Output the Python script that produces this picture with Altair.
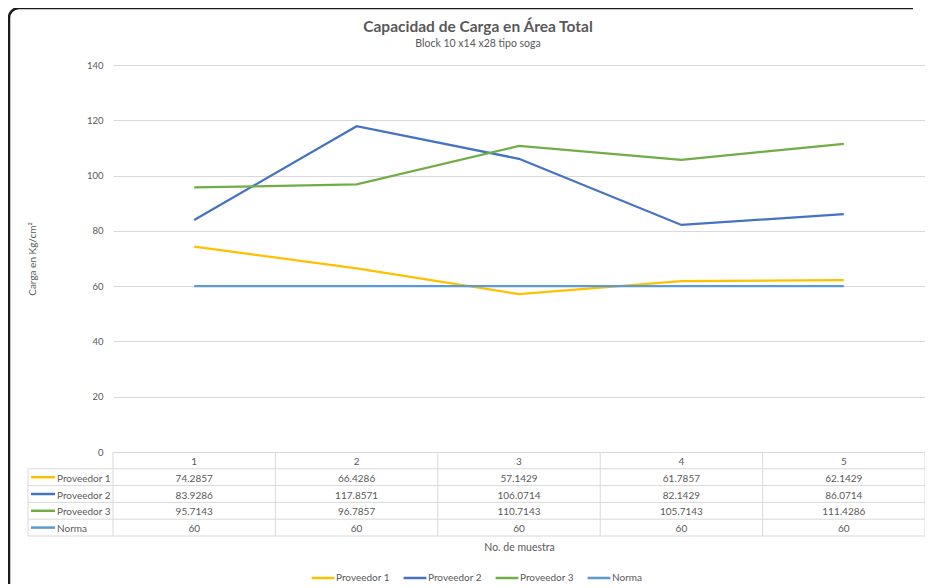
import math
import altair as alt
import pandas as pd

# ---------------- data ----------------
muestras = [1, 2, 3, 4, 5]
series = ["Proveedor 1", "Proveedor 2", "Proveedor 3", "Norma"]
proveedor1 = [74.2857, 66.4286, 57.1429, 61.7857, 62.1429]
proveedor2 = [83.9286, 117.8571, 106.0714, 82.1429, 86.0714]
proveedor3 = [95.7143, 96.7857, 110.7143, 105.7143, 111.4286]
norma = [60, 60, 60, 60, 60]
colors = ["#FFC000", "#4472C4", "#70AD47", "#5B9BD5"]
y_ticks = [0, 20, 40, 60, 80, 100, 120, 140]
title_text = "Capacidad de Carga en Área Total"
subtitle_text = "Block 10 x14 x28 tipo soga"
x_title = "No. de muestra"
y_title = "Carga en Kg/cm²"

# ---------------- style ----------------
W, H = 812, 387
TABLE_H = 84
PAD_BOTTOM = 580 - 57 - H
FONT = "Lato"
GRAY = "#595959"
GRID = "#d9d9d9"
FRAME = "#1a1a1a"

values = [proveedor1, proveedor2, proveedor3, norma]
long = pd.DataFrame(
    [
        {"serie": s, "muestra": m, "valor": v, "fila": i + 1.5}
        for i, (s, vals) in enumerate(zip(series, values))
        for m, v in zip(muestras, vals)
    ]
)
rows_df = pd.DataFrame({"serie": series, "fila": [i + 1.5 for i in range(len(series))]})
header_df = pd.DataFrame({"muestra": muestras, "fila": [0.5] * len(muestras)})
hlines_df = pd.DataFrame({"fila": [1, 2, 3, 4, 5]})
vlines_df = pd.DataFrame({"xb": [m - 0.5 for m in muestras] + [muestras[-1] + 0.5], "f0": 0, "f1": 5})
lcol_df = pd.DataFrame({"f0": [1], "f1": [5]})
one = pd.DataFrame({"a": [0]})

x_scale = alt.Scale(domain=[0.5, 5.5], nice=False, zero=False)
y_scale = alt.Scale(domain=[0, 140], nice=False)
row_scale = alt.Scale(domain=[0, 5], range=[H, H + TABLE_H], nice=False, zero=False)
color_scale = alt.Scale(domain=series, range=colors)

x_axis = alt.Axis(
    labels=False, ticks=False, domain=False, grid=False,
    title=x_title, titleFont=FONT, titleFontSize=10.5,
    titleFontWeight="normal", titleColor=GRAY, titleY=482 - H, titleBaseline="middle",
)
y_axis = alt.Axis(
    values=y_ticks, grid=True, gridColor=GRID, gridWidth=1, domain=False, ticks=False,
    labelColor=GRAY, labelFont=FONT, labelFontSize=9.5, labelPadding=10,
    title=y_title, titleFont=FONT, titleFontSize=10, titleFontWeight="normal",
    titleColor=GRAY, titleX=-81, titleY=H / 2, titleBaseline="middle", titleAlign="center",
)

# chart frame (only the top and left edges fall inside the picture)
frame_top = alt.Chart(one).mark_rule(color=FRAME, strokeWidth=2.5).encode(
    x=alt.value(-94), x2=alt.value(W - 12), y=alt.value(-57)
)
frame_left = alt.Chart(one).mark_rule(color=FRAME, strokeWidth=2.5).encode(
    x=alt.value(-104), y=alt.value(-47), y2=alt.value(H + PAD_BOTTOM - 4)
)
frame_corner = alt.Chart(one).mark_arc(
    radius=11.25, radius2=8.75, theta=1.5 * math.pi, theta2=2 * math.pi, color=FRAME
).encode(x=alt.value(-94), y=alt.value(-47))

title_mark = alt.Chart(one).mark_text(
    text=title_text, font=FONT, fontSize=15.5, fontWeight="bold", color=GRAY,
    align="center", baseline="middle"
).encode(x=alt.value(365), y=alt.value(-38))
subtitle_mark = alt.Chart(one).mark_text(
    text=subtitle_text, font=FONT, fontSize=10.5, color=GRAY,
    align="center", baseline="middle"
).encode(x=alt.value(365), y=alt.value(-21))

lines = alt.Chart(long).mark_line(strokeWidth=2.25).encode(
    x=alt.X("muestra:Q", scale=x_scale, axis=x_axis),
    y=alt.Y("valor:Q", scale=y_scale, axis=y_axis),
    color=alt.Color(
        "serie:N", scale=color_scale, sort=series,
        legend=alt.Legend(
            title=None, orient="none", direction="horizontal",
            legendX=197, legendY=500, symbolType="stroke", symbolStrokeWidth=2.5,
            symbolSize=520, labelFont=FONT, labelFontSize=10, labelColor=GRAY,
            labelOffset=0, columnPadding=8,
        ),
    ),
    order=alt.Order("muestra:Q"),
)

plot_layer = alt.layer(frame_top, frame_left, frame_corner, title_mark, subtitle_mark, lines)

# ---------------- data table ----------------
tx = dict(font=FONT, fontSize=10, color=GRAY, baseline="middle", dy=1.5)
header = alt.Chart(header_df).mark_text(**tx).encode(
    x=alt.X("muestra:Q", scale=x_scale, axis=x_axis),
    y=alt.Y("fila:Q", scale=row_scale, axis=None),
    text="muestra:Q",
)
cells = alt.Chart(long).mark_text(**tx).encode(
    x=alt.X("muestra:Q", scale=x_scale, axis=x_axis),
    y=alt.Y("fila:Q", scale=row_scale, axis=None),
    text=alt.Text("valor:Q", format=".4~f"),
)
row_labels = alt.Chart(rows_df).mark_text(align="left", **tx).encode(
    x=alt.value(-56),
    y=alt.Y("fila:Q", scale=row_scale, axis=None),
    text="serie:N",
)
row_symbols = alt.Chart(rows_df).mark_rule(strokeWidth=2.5).encode(
    x=alt.value(-82), x2=alt.value(-58),
    y=alt.Y("fila:Q", scale=row_scale, axis=None),
    color=alt.Color("serie:N", scale=color_scale, legend=None),
)
hlines = alt.Chart(hlines_df).mark_rule(color=GRID, strokeWidth=1).encode(
    x=alt.value(-85), x2=alt.value(W),
    y=alt.Y("fila:Q", scale=row_scale, axis=None),
)
vlines = alt.Chart(vlines_df).mark_rule(color=GRID, strokeWidth=1).encode(
    x=alt.X("xb:Q", scale=x_scale, axis=x_axis),
    y=alt.Y("f0:Q", scale=row_scale, axis=None),
    y2="f1:Q",
)
lcol = alt.Chart(lcol_df).mark_rule(color=GRID, strokeWidth=1).encode(
    x=alt.value(-85),
    y=alt.Y("f0:Q", scale=row_scale, axis=None),
    y2="f1:Q",
)
table_layer = alt.layer(hlines, vlines, lcol, header, cells, row_symbols, row_labels)

chart = (
    alt.layer(plot_layer, table_layer)
    .resolve_scale(y="independent")
    .properties(
        width=W, height=H,
        padding={"left": 105, "top": 57, "right": 0, "bottom": PAD_BOTTOM},
        autosize=alt.AutoSizeParams(type="none"),
        background="white",
    )
    .configure_view(stroke=None)
)

chart.save("out.html", embed_options={"renderer": "svg", "actions": False})
